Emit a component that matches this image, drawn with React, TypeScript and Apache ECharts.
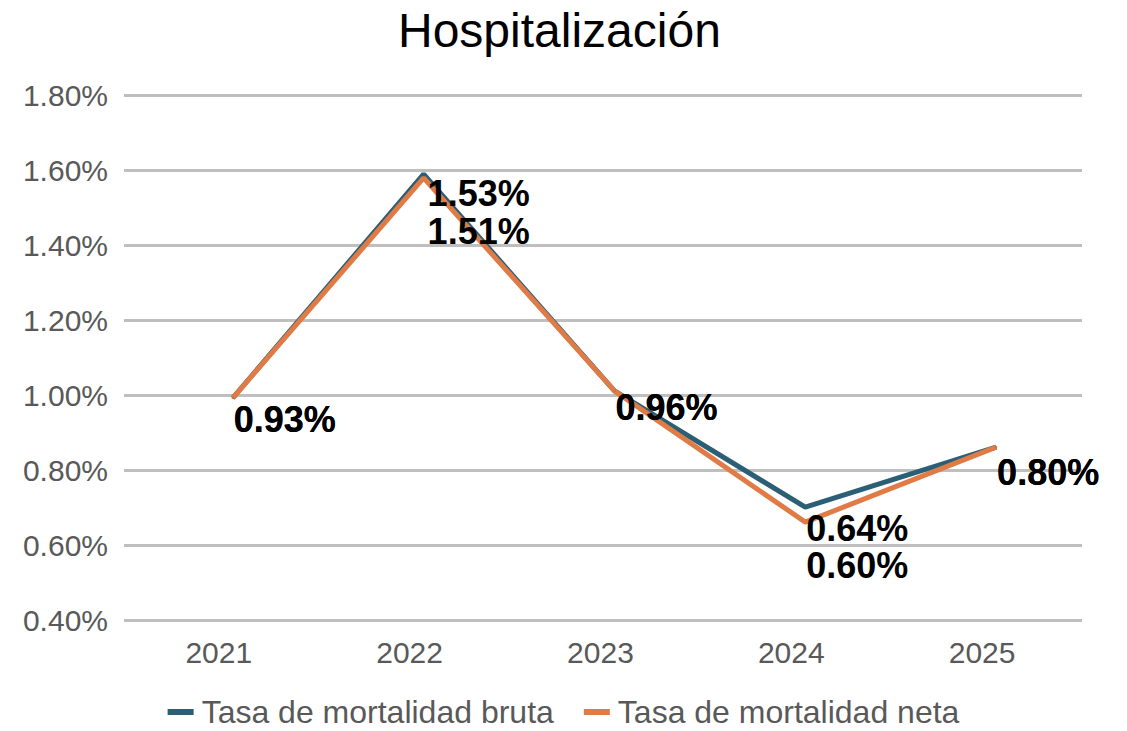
import React, { useEffect, useRef } from "react";
import * as echarts from "echarts";

const years = [2021, 2022, 2023, 2024, 2025];
const brutaValues = [0.992, 1.589, 1.011, 0.701, 0.861];
const netaValues = [0.992, 1.579, 1.011, 0.661, 0.861];
const brutaLabels = ["0.93%", "1.53%", "0.96%", "0.64%", "0.80%"];
const netaLabels = ["0.93%", "1.51%", "0.96%", "0.60%", "0.80%"];
const brutaLabelDy = [21, 19, 17, 21, 25];
const netaLabelDy = [21, 54, 17, 43, 25];
const yTicks = { min: 0.4, max: 1.8, interval: 0.2 };
const seriesNames = ["Tasa de mortalidad bruta", "Tasa de mortalidad neta"];

const FONT = "'Liberation Sans', Arial, sans-serif";

export default function App() {
  const ref = useRef<HTMLDivElement>(null);
  useEffect(() => {
    if (!ref.current) return;
    const chart = echarts.init(ref.current, undefined, { renderer: "svg" });
    const mkSeries = (
      name: string,
      values: number[],
      labels: string[],
      dys: number[],
      color: string
    ) => ({
      name,
      type: "line",
      symbol: "circle",
      symbolSize: 2,
      showSymbol: true,
      lineStyle: { color, width: 5 },
      itemStyle: { color },
      data: values.map((v, i) => ({
        value: [years[i], v],
        label: { offset: [i === 1 ? 4 : 1, dys[i]] },
      })),
      label: {
        show: true,
        position: "inside",
        align: "left",
        verticalAlign: "middle",
        color: "#000",
        fontSize: 36,
        fontWeight: "bold",
        fontFamily: FONT,
        formatter: (p: any) => labels[p.dataIndex],
      },
      emphasis: { disabled: true },
    });
    chart.setOption({
      animation: false,
      title: {
        text: "Hospitalización",
        left: 393,
        top: 1,
        textStyle: {
          fontSize: 48,
          fontWeight: "normal",
          color: "#000",
          fontFamily: FONT,
        },
      },
      legend: {
        data: seriesNames,
        left: "center",
        top: 691,
        icon: "rect",
        itemWidth: 26,
        itemHeight: 6,
        itemGap: 30,
        textStyle: {
          fontSize: 32,
          color: "#595959",
          fontFamily: FONT,
          padding: [0, 0, 0, 3],
        },
      },
      grid: { left: 124, right: 45, top: 95, bottom: 111 },
      xAxis: {
        type: "value",
        min: 2020.43,
        max: 2025.45,
        axisLine: { show: false },
        axisTick: { show: false },
        splitLine: { show: false },
        axisLabel: {
          customValues: years,
          formatter: (v: number) => String(v),
          fontSize: 30,
          color: "#595959",
          fontFamily: FONT,
          margin: 17,
          padding: [0, 28, 0, 0],
        },
      },
      yAxis: {
        type: "value",
        min: yTicks.min,
        max: yTicks.max,
        interval: yTicks.interval,
        axisLine: { show: false },
        axisTick: { show: false },
        axisLabel: {
          formatter: (v: number) => v.toFixed(2) + "%",
          fontSize: 30,
          color: "#595959",
          fontFamily: FONT,
          margin: 16,
        },
        splitLine: { lineStyle: { color: "#bfbfbf", width: 3 } },
      },
      series: [
        mkSeries(seriesNames[0], brutaValues, brutaLabels, brutaLabelDy, "#2b5f75"),
        mkSeries(seriesNames[1], netaValues, netaLabels, netaLabelDy, "#e07b45"),
      ],
    });
    return () => chart.dispose();
  }, []);
  return (
    <div
      ref={ref}
      style={{ position: "fixed", left: 0, top: 0, width: 1127, height: 731, background: "#fff" }}
    />
  );
}
